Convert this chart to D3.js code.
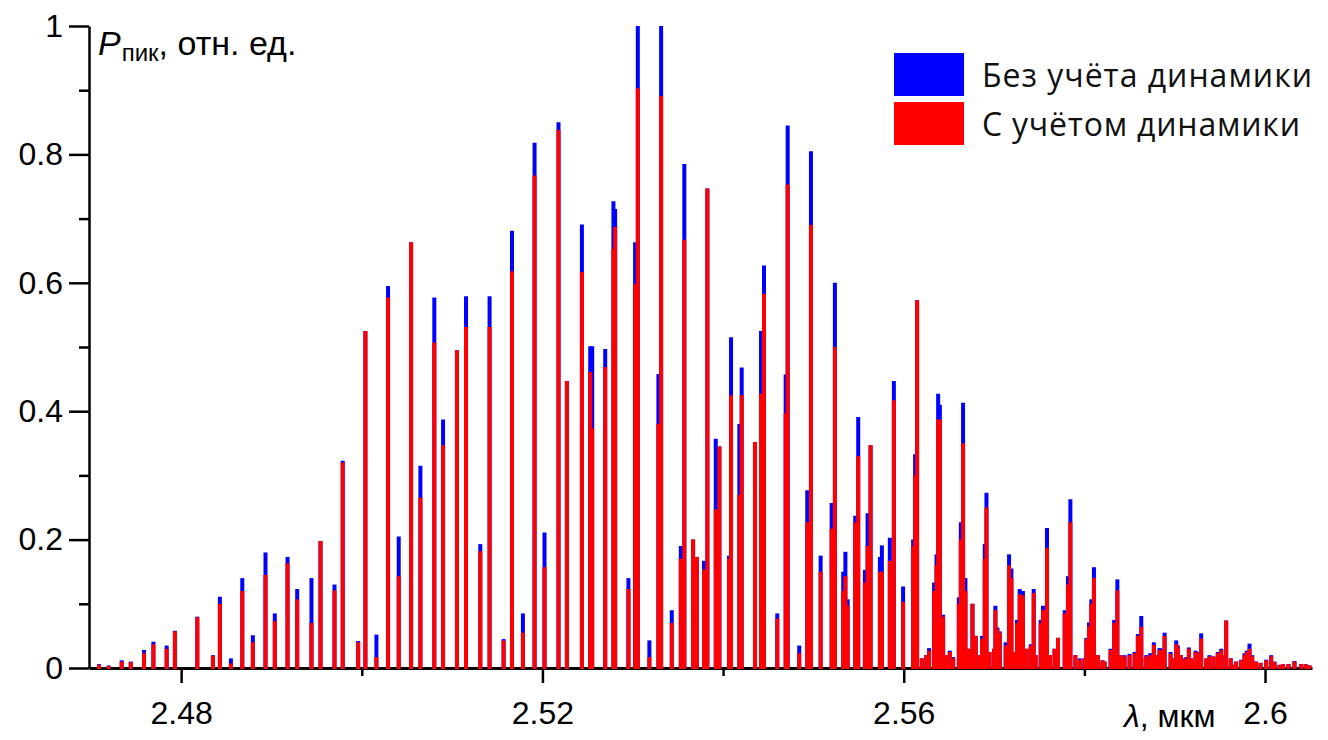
<!DOCTYPE html>
<html>
<head>
<meta charset="utf-8">
<script src="https://cdn.jsdelivr.net/npm/d3@7"></script>
<style>
  body { margin: 0; background: #fff; }
</style>
</head>
<body>
<div id="chart"></div>
<script>
// peak wavelengths, мкм
const lambda = [
  2.47091, 2.47198, 2.47342, 2.47442, 2.47589, 2.47693, 2.47840, 2.47931, 2.48179, 2.48352,
  2.48429, 2.48551, 2.48677, 2.48794, 2.48934, 2.49037, 2.49178, 2.49285, 2.49443, 2.49543,
  2.49698, 2.49789, 2.49960, 2.50040, 2.50162, 2.50291, 2.50409, 2.50546, 2.50649, 2.50803,
  2.50900, 2.51054, 2.51154, 2.51312, 2.51415, 2.51570, 2.51663, 2.51784, 2.51913, 2.52023,
  2.52178, 2.52271, 2.52437, 2.52529, 2.52551, 2.52695, 2.52786, 2.52805, 2.52952, 2.53026,
  2.53056, 2.53184, 2.53284, 2.53314, 2.53432, 2.53532, 2.53571, 2.53668, 2.53709, 2.53789,
  2.53826, 2.53919, 2.53959, 2.54066, 2.54088, 2.54180, 2.54206, 2.54353, 2.54420, 2.54453,
  2.54600, 2.54693, 2.54715, 2.54843, 2.54932, 2.54973, 2.55080, 2.55202, 2.55238, 2.55330,
  2.55354, 2.55379, 2.55463, 2.55496, 2.55570, 2.55600, 2.55633, 2.55736, 2.55758, 2.55846,
  2.55891, 2.55993, 2.56104, 2.56126, 2.56148, 2.56281, 2.56336, 2.56363, 2.56381, 2.56400,
  2.56436, 2.56510, 2.56547, 2.56610, 2.56632, 2.56657, 2.56683, 2.56761, 2.56797, 2.56867,
  2.56897, 2.56916, 2.57015, 2.57037, 2.57063, 2.57129, 2.57166, 2.57192, 2.57254, 2.57284,
  2.57320, 2.57406, 2.57439, 2.57516, 2.57542, 2.57586, 2.57708, 2.57782, 2.57818, 2.57845,
  2.57948, 2.58022, 2.58051, 2.58077, 2.58106, 2.58224, 2.58290, 2.58330, 2.58365, 2.58400,
  2.58445, 2.58500, 2.58556, 2.58592, 2.58630, 2.58685, 2.58729, 2.58769, 2.58832, 2.58862,
  2.58888, 2.58954, 2.59017, 2.59035, 2.59090, 2.59128, 2.59157, 2.59201, 2.59231, 2.59256,
  2.59293, 2.59349, 2.59385, 2.59477, 2.59515, 2.59570, 2.59643, 2.59736, 2.59773, 2.59798,
  2.59828, 2.59858, 2.60013, 2.60068, 2.60105, 2.60160, 2.60326, 2.60492,
  // low background lines in the long-wave tail
  2.56200, 2.56250, 2.56480, 2.56720, 2.56840, 2.56950, 2.57000, 2.57220, 2.57360, 2.57460,
  2.57560, 2.57620, 2.57670, 2.57900, 2.58000, 2.58150, 2.58200, 2.58420, 2.58680, 2.58800,
  2.58990, 2.59070, 2.59180, 2.59350, 2.59430, 2.59520, 2.59620, 2.59680, 2.59900, 2.59950,
  2.60200, 2.60260, 2.60400, 2.60450
];

// peak power without dynamics (blue)
const pStatic = [
  0.006, 0.004, 0.012, 0.010, 0.028, 0.041, 0.035, 0.058, 0.080, 0.020,
  0.111, 0.015, 0.140, 0.051, 0.180, 0.085, 0.173, 0.123, 0.140, 0.198,
  0.130, 0.323, 0.042, 0.525, 0.052, 0.595, 0.205, 0.663, 0.315, 0.577,
  0.387, 0.495, 0.579, 0.193, 0.579, 0.045, 0.681, 0.085, 0.818, 0.211,
  0.850, 0.447, 0.691, 0.501, 0.501, 0.497, 0.727, 0.715, 0.140, 0.663,
  1.000, 0.043, 0.458, 1.000, 0.090, 0.190, 0.785, 0.200, 0.173, 0.167,
  0.747, 0.357, 0.345, 0.175, 0.515, 0.380, 0.468, 0.352, 0.525, 0.627,
  0.085, 0.457, 0.845, 0.035, 0.277, 0.805, 0.175, 0.257, 0.600, 0.150,
  0.181, 0.107, 0.237, 0.391, 0.153, 0.241, 0.347, 0.173, 0.191, 0.203,
  0.447, 0.127, 0.200, 0.333, 0.573, 0.031, 0.133, 0.177, 0.427, 0.410,
  0.083, 0.027, 0.017, 0.110, 0.227, 0.413, 0.140, 0.100, 0.050, 0.050,
  0.193, 0.273, 0.097, 0.063, 0.057, 0.040, 0.177, 0.155, 0.075, 0.123,
  0.120, 0.037, 0.123, 0.075, 0.097, 0.218, 0.047, 0.090, 0.143, 0.263,
  0.015, 0.047, 0.071, 0.107, 0.157, 0.010, 0.030, 0.075, 0.138, 0.020,
  0.020, 0.022, 0.025, 0.053, 0.081, 0.020, 0.023, 0.040, 0.031, 0.030,
  0.055, 0.025, 0.043, 0.035, 0.015, 0.017, 0.032, 0.013, 0.027, 0.025,
  0.054, 0.010, 0.020, 0.025, 0.030, 0.074, 0.005, 0.013, 0.023, 0.027,
  0.038, 0.020, 0.013, 0.020, 0.010, 0.005, 0.011, 0.004,
  0.015, 0.020, 0.020, 0.030, 0.020, 0.025, 0.030, 0.025, 0.030, 0.020,
  0.035, 0.020, 0.030, 0.020, 0.015, 0.020, 0.012, 0.015, 0.015, 0.020,
  0.015, 0.020, 0.015, 0.015, 0.018, 0.020, 0.015, 0.010, 0.010, 0.008,
  0.006, 0.006, 0.006, 0.006
];

// peak power with dynamics (red)
const pDynamic = [
  0.005, 0.003, 0.010, 0.009, 0.023, 0.037, 0.030, 0.057, 0.079, 0.019,
  0.100, 0.007, 0.120, 0.040, 0.145, 0.073, 0.163, 0.107, 0.070, 0.198,
  0.121, 0.320, 0.040, 0.525, 0.017, 0.577, 0.143, 0.663, 0.265, 0.507,
  0.347, 0.495, 0.531, 0.182, 0.531, 0.043, 0.618, 0.055, 0.767, 0.157,
  0.838, 0.447, 0.617, 0.461, 0.373, 0.469, 0.653, 0.687, 0.123, 0.598,
  0.903, 0.017, 0.380, 0.891, 0.070, 0.170, 0.667, 0.200, 0.173, 0.153,
  0.747, 0.247, 0.345, 0.170, 0.425, 0.270, 0.425, 0.352, 0.427, 0.583,
  0.077, 0.397, 0.753, 0.023, 0.227, 0.690, 0.150, 0.217, 0.500, 0.120,
  0.143, 0.097, 0.227, 0.330, 0.133, 0.190, 0.347, 0.150, 0.150, 0.167,
  0.417, 0.103, 0.190, 0.300, 0.573, 0.027, 0.120, 0.160, 0.387, 0.387,
  0.080, 0.025, 0.015, 0.100, 0.200, 0.350, 0.120, 0.100, 0.050, 0.045,
  0.170, 0.250, 0.090, 0.060, 0.055, 0.035, 0.160, 0.140, 0.070, 0.115,
  0.113, 0.035, 0.117, 0.070, 0.090, 0.187, 0.047, 0.085, 0.130, 0.227,
  0.013, 0.045, 0.065, 0.100, 0.140, 0.010, 0.028, 0.070, 0.121, 0.020,
  0.018, 0.020, 0.023, 0.050, 0.064, 0.018, 0.020, 0.036, 0.028, 0.028,
  0.050, 0.022, 0.037, 0.032, 0.013, 0.015, 0.030, 0.012, 0.025, 0.023,
  0.046, 0.009, 0.018, 0.023, 0.028, 0.074, 0.005, 0.012, 0.020, 0.025,
  0.030, 0.018, 0.012, 0.018, 0.009, 0.005, 0.010, 0.004,
  0.015, 0.020, 0.020, 0.030, 0.020, 0.025, 0.030, 0.025, 0.030, 0.020,
  0.035, 0.020, 0.030, 0.020, 0.015, 0.020, 0.012, 0.015, 0.015, 0.020,
  0.015, 0.020, 0.015, 0.015, 0.018, 0.020, 0.015, 0.010, 0.010, 0.008,
  0.006, 0.006, 0.006, 0.006
];

const xTicks = [2.48, 2.52, 2.56, 2.6];
const xMinorTicks = [2.50, 2.54, 2.58];
const yTicks = [0, 0.2, 0.4, 0.6, 0.8, 1];
const yMinorTicks = [0.1, 0.3, 0.5, 0.7, 0.9];
const seriesNames = ["Без учёта динамики", "С учётом динамики"];
const seriesColors = ["#0000ff", "#ff0000"];

const W = 1328, H = 740;
const svg = d3.select("#chart").append("svg")
    .attr("width", W)
    .attr("height", H);

const x = d3.scaleLinear().domain([2.4698, 2.6052]).range([89, 1312]);
const y = d3.scaleLinear().domain([0, 1]).range([668, 26]);

const axisFont = "'Liberation Sans', Arial, sans-serif";

// x axis
const gx = svg.append("g")
    .attr("transform", `translate(0,${y(0)})`)
    .call(d3.axisBottom(x).tickValues(xTicks).tickSize(15).tickSizeOuter(0).tickPadding(18)
          .tickFormat(d => String(d)));
gx.select(".domain").attr("stroke-width", 3);
gx.selectAll(".tick line").attr("stroke-width", 2.5);
gx.selectAll("text").attr("font-family", axisFont).attr("font-size", 32).attr("fill", "#000");

const gxm = svg.append("g")
    .attr("transform", `translate(0,${y(0)})`)
    .call(d3.axisBottom(x).tickValues(xMinorTicks).tickSize(8).tickFormat(""));
gxm.select(".domain").remove();
gxm.selectAll(".tick line").attr("stroke-width", 2.5);

// spikes: blue first, red on top
[pStatic, pDynamic].forEach((vals, k) => {
  svg.append("g")
     .attr("stroke", seriesColors[k])
     .attr("stroke-width", 4)
     .selectAll("line")
     .data(d3.range(lambda.length))
     .join("line")
     .attr("x1", i => x(lambda[i]))
     .attr("x2", i => x(lambda[i]))
     .attr("y1", y(0) + 1)
     .attr("y2", i => y(vals[i]));
});

// y axis
const gy = svg.append("g")
    .attr("transform", `translate(${x.range()[0]},0)`)
    .call(d3.axisLeft(y).tickValues(yTicks).tickSize(20).tickSizeOuter(0).tickPadding(6)
          .tickFormat(d => String(d)));
gy.select(".domain").attr("stroke-width", 2.5);
gy.selectAll(".tick line").attr("stroke-width", 2.5);
gy.selectAll("text").attr("font-family", axisFont).attr("font-size", 32).attr("fill", "#000");

const gym = svg.append("g")
    .attr("transform", `translate(${x.range()[0]},0)`)
    .call(d3.axisLeft(y).tickValues(yMinorTicks).tickSize(10).tickFormat(""));
gym.select(".domain").remove();
gym.selectAll(".tick line").attr("stroke-width", 2.5);

// axis titles
const yt = svg.append("text")
    .attr("x", 98)
    .attr("y", 55)
    .attr("font-family", axisFont)
    .attr("font-size", 34)
    .attr("fill", "#000");
yt.append("tspan").attr("font-style", "italic").text("P");
yt.append("tspan").attr("font-size", 24).attr("dy", 6).attr("dx", 1).text("пик");
yt.append("tspan").attr("dy", -6).text(", отн. ед.");

const xt = svg.append("text")
    .attr("x", 1124)
    .attr("y", 727)
    .attr("font-family", axisFont)
    .attr("font-size", 32)
    .attr("fill", "#000");
xt.append("tspan").attr("font-style", "italic").text("λ");
xt.append("tspan").text(", мкм");

// legend
const legend = svg.append("g").attr("transform", "translate(894,53)");
seriesNames.forEach((name, k) => {
  legend.append("rect")
        .attr("x", 0)
        .attr("y", k * 49)
        .attr("width", 70)
        .attr("height", 43)
        .attr("fill", seriesColors[k]);
  legend.append("text")
        .attr("x", 88)
        .attr("y", k * 49 + 34)
        .attr("font-family", "'Open Sans', 'Noto Sans', sans-serif")
        .attr("font-size", 32)
        .attr("textLength", k === 0 ? 330 : 318)
        .attr("fill", "#111")
        .text(name);
});
</script>
</body>
</html>
